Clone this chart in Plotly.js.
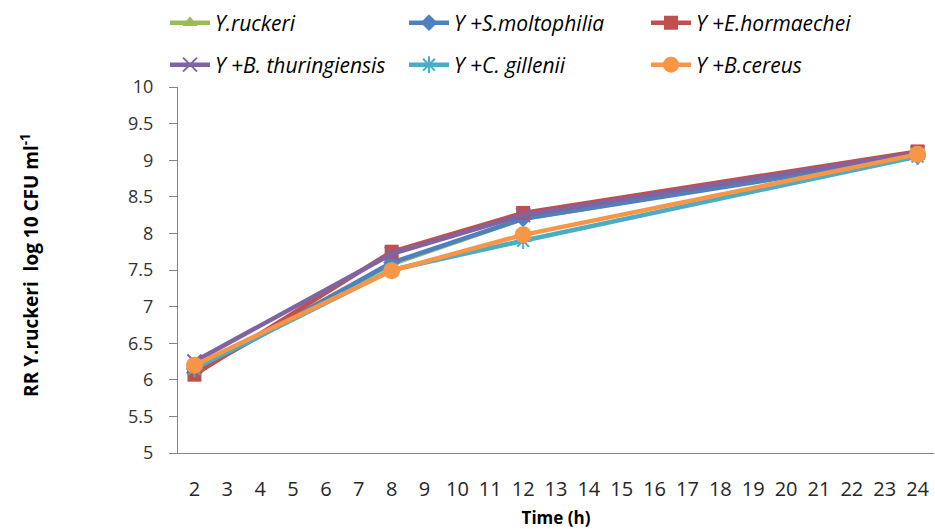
<!DOCTYPE html>
<html>
<head>
<meta charset="utf-8">
<script src="https://cdn.plot.ly/plotly-3.0.1.min.js"></script>
<style>html,body{margin:0;padding:0;background:#fff;}#chart{width:935px;height:529px;}</style>
</head>
<body>
<div id="chart"></div>
<script>
// Data
const times = [2, 8, 12, 24];
const seriesNames = ["Y.ruckeri", "Y +S.moltophilia", "Y +E.hormaechei", "Y +B. thuringiensis", "Y +C. gillenii", "Y +B.cereus"];
const yRuckeri = [6.15, 7.58, 8.2, 9.08];
const ySMoltophilia = [6.1, 7.6, 8.2, 9.05];
const yEHormaechei = [6.07, 7.75, 8.28, 9.12];
const yBThuringiensis = [6.25, 7.72, 8.25, 9.1];
const yCGillenii = [6.15, 7.5, 7.9, 9.05];
const yBCereus = [6.2, 7.49, 7.98, 9.08];
const xTicks = [2,3,4,5,6,7,8,9,10,11,12,13,14,15,16,17,18,19,20,21,22,23,24];
const yTicks = [5,5.5,6,6.5,7,7.5,8,8.5,9,9.5,10];
const yTitle = "<b>RR Y.ruckeri  log 10 CFU ml<sup>-1</sup></b>";
const xTitle = "<b>Time (h)</b>";

const colors = ["#9BBB59", "#4F81BD", "#C0504D", "#8064A2", "#4BACC6", "#F79646"];
const symbols = ["triangle-up", "diamond", "square", "x-thin-open", "asterisk-open", "circle"];
const sizes = [13, 13, 14, 14, 14, 17];
const values = [yRuckeri, ySMoltophilia, yEHormaechei, yBThuringiensis, yCGillenii, yBCereus];
const legendIds = ["legend", "legend2", "legend3", "legend4", "legend5", "legend6"];

const FONT = "'Open Sans', 'Noto Sans', sans-serif";

const traces = values.map((v, i) => ({
  x: times, y: v, type: "scatter", mode: "lines+markers",
  name: seriesNames[i],
  legend: legendIds[i],
  line: {color: colors[i], width: 4.5},
  marker: {symbol: symbols[i], size: sizes[i], color: colors[i],
           line: {color: colors[i], width: (i === 3 || i === 4) ? 2 : 0}}
}));

// legend text positions (px from left / top of the figure)
const legTextX = [216, 455, 697, 216, 455, 697];
const legTextY = [23, 23, 23, 65, 65, 65];

const layout = {
  width: 935, height: 529,
  margin: {l: 178, r: 1, t: 87, b: 76, autoexpand: false},
  paper_bgcolor: "#fff", plot_bgcolor: "#fff",
  showlegend: true,
  xaxis: {
    range: [1.5, 24.5], tickmode: "array", tickvals: xTicks, ticktext: xTicks.map(String),
    showgrid: false, zeroline: false, showline: true, linecolor: "#868686", linewidth: 1,
    ticks: "", ticklabelstandoff: 18, automargin: false,
    tickfont: {family: FONT, size: 20, color: "#262626"},
    title: {text: xTitle, standoff: 12,
            font: {family: FONT, size: 17, color: "#000"}}
  },
  yaxis: {
    range: [5, 10], tickmode: "array", tickvals: yTicks, ticktext: yTicks.map(String),
    showgrid: false, zeroline: false, showline: true, linecolor: "#868686", linewidth: 1,
    ticks: "outside", ticklen: 8, tickcolor: "#868686", ticklabelstandoff: 12,
    automargin: false,
    tickfont: {family: FONT, size: 18, color: "#333"}
  },
  annotations: [{
    text: yTitle, xref: "paper", yref: "paper",
    x: (30 - 178) / 756, y: 0.514, xanchor: "center", yanchor: "middle",
    textangle: -90, showarrow: false,
    font: {family: FONT, size: 19, color: "#000"}
  }]
};

legendIds.forEach((id, i) => {
  layout[id] = {
    orientation: "v", xref: "container", yref: "container",
    xanchor: "left", yanchor: "middle",
    x: (legTextX[i] - 51) / 935, y: 1 - legTextY[i] / 529,
    font: {family: FONT, size: 21, color: "#000", style: "italic"},
    bgcolor: "rgba(0,0,0,0)", borderwidth: 0, itemwidth: 40
  };
});

Plotly.newPlot("chart", traces, layout, {displayModeBar: false, staticPlot: true});
</script>
</body>
</html>
